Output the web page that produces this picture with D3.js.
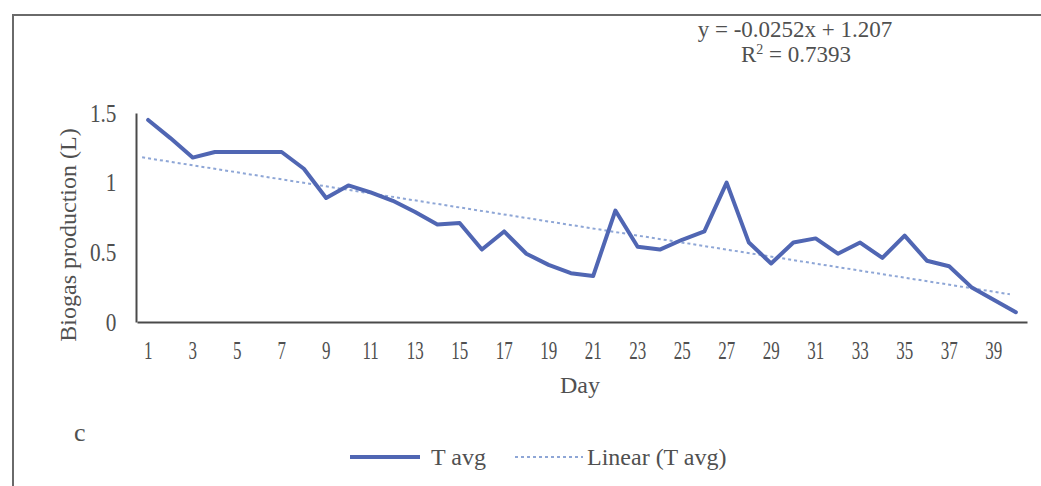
<!DOCTYPE html>
<html>
<head>
<meta charset="utf-8">
<script src="https://cdn.jsdelivr.net/npm/d3@7"></script>
<style>
  html, body { margin: 0; padding: 0; background: #fff; }
  svg { display: block; font-family: "Liberation Serif", "DejaVu Serif", serif; }
</style>
</head>
<body>
<svg id="chart" width="1041" height="486"></svg>
<script>
// Daily biogas production, T avg (L)
const days = d3.range(1, 41);
const tAvg = [1.45, 1.32, 1.18, 1.22, 1.22, 1.22, 1.22, 1.10, 0.89, 0.98,
              0.93, 0.87, 0.79, 0.70, 0.71, 0.52, 0.65, 0.49, 0.41, 0.35,
              0.33, 0.80, 0.54, 0.52, 0.59, 0.65, 1.00, 0.57, 0.42, 0.57,
              0.60, 0.49, 0.57, 0.46, 0.62, 0.44, 0.40, 0.25, 0.16, 0.07];
const yTicks = [0, 0.5, 1, 1.5];
const xTickLabels = days.filter(d => d % 2 === 1);
// Linear trend coefficients
const slope = -0.0252;
const intercept = 1.207;
const rSquared = 0.7393;

const svg = d3.select("#chart");
const textColor = "#505050";

// Outer frame (top and left edges)
svg.append("path")
  .attr("d", "M13,486 L13,15 L1041,15")
  .attr("fill", "none").attr("stroke", "#6a6a6a").attr("stroke-width", 2);

const plotLeft = 137, plotRight = 1027, plotTop = 113, plotBottom = 322;

const x = d3.scaleBand().domain(days).range([plotLeft, plotRight]);
const y = d3.scaleLinear().domain([0, 1.5]).range([plotBottom, plotTop]);
const cx = d => x(d) + x.bandwidth() / 2;

// Axes (narrow, tall serif labels)
const xAxis = d3.axisBottom(x).tickValues(xTickLabels).tickSize(0).tickPadding(19);
const gx = svg.append("g").attr("transform", `translate(0,${plotBottom})`).call(xAxis);
gx.select(".domain").attr("stroke", "#4a4a4a").attr("stroke-width", 2);
gx.selectAll("text").attr("fill", textColor).attr("font-size", 25)
  .attr("font-family", "Liberation Serif")
  .attr("transform", "scale(0.68,1)");

const yAxis = d3.axisLeft(y).tickValues(yTicks).tickSize(0).tickPadding(23)
  .tickFormat(d => String(d));
const gy = svg.append("g").attr("transform", `translate(${plotLeft - 1},0)`).call(yAxis);
gy.select(".domain").attr("stroke", "#4a4a4a").attr("stroke-width", 2);
gy.selectAll("text").attr("fill", textColor).attr("font-size", 25)
  .attr("font-family", "Liberation Serif")
  .attr("transform", "scale(0.85,1)");

// Axis titles
svg.append("text")
  .attr("transform", "translate(76,235) rotate(-90)")
  .attr("text-anchor", "middle").attr("fill", textColor).attr("font-size", 24)
  .text("Biogas production (L)");
svg.append("text")
  .attr("x", 580).attr("y", 393)
  .attr("text-anchor", "middle").attr("fill", textColor).attr("font-size", 24)
  .text("Day");

// Panel letter
svg.append("text").attr("x", 74).attr("y", 441)
  .attr("fill", textColor).attr("font-size", 26).text("c");

// Trend line (linear fit)
const trendDays = [days[0], days[days.length - 1]];
svg.append("path")
  .datum(trendDays)
  .attr("d", d3.line().x(d => cx(d) - 6).y(d => y(intercept + slope * d)))
  .attr("fill", "none").attr("stroke", "#8ea6d6").attr("stroke-width", 2)
  .attr("stroke-dasharray", "3,3");

// Data line
const line = d3.line().x((d, i) => cx(days[i])).y(d => y(d));
svg.append("path")
  .datum(tAvg)
  .attr("d", line)
  .attr("fill", "none").attr("stroke", "#5066b3").attr("stroke-width", 4)
  .attr("stroke-linejoin", "round").attr("stroke-linecap", "round");

// Equation label
svg.append("text").attr("x", 795).attr("y", 37)
  .attr("text-anchor", "middle").attr("fill", textColor).attr("font-size", 23)
  .text(`y = ${slope}x + ${intercept}`);
const r2 = svg.append("text").attr("x", 796).attr("y", 62)
  .attr("text-anchor", "middle").attr("fill", textColor).attr("font-size", 23);
r2.append("tspan").text("R");
r2.append("tspan").attr("dy", -8).attr("font-size", 14).text("2");
r2.append("tspan").attr("dy", 8).text(` = ${rSquared}`);

// Legend
const legY = 457;
svg.append("line").attr("x1", 350).attr("x2", 420).attr("y1", legY).attr("y2", legY)
  .attr("stroke", "#5066b3").attr("stroke-width", 4);
svg.append("text").attr("x", 431).attr("y", legY + 8)
  .attr("fill", textColor).attr("font-size", 24).text("T avg");
svg.append("line").attr("x1", 515).attr("x2", 583).attr("y1", legY).attr("y2", legY)
  .attr("stroke", "#8ea6d6").attr("stroke-width", 2).attr("stroke-dasharray", "3,3");
svg.append("text").attr("x", 587).attr("y", legY + 8)
  .attr("fill", textColor).attr("font-size", 24).text("Linear (T avg)");
</script>
</body>
</html>
